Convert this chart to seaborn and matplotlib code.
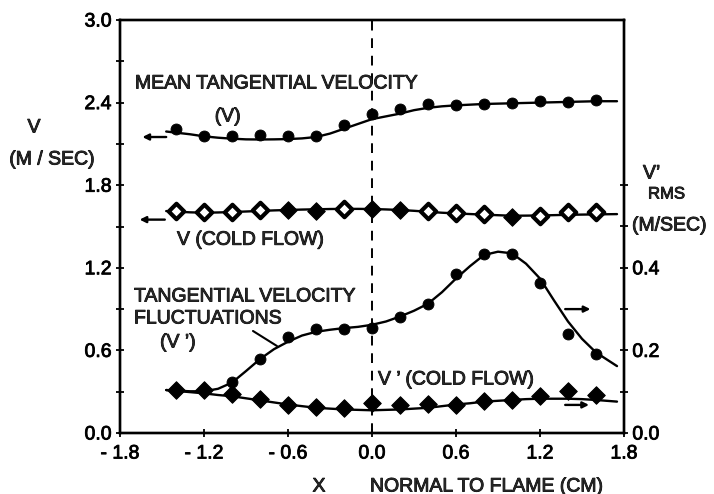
import numpy as np
import pandas as pd
import matplotlib
matplotlib.use("Agg")
import matplotlib.pyplot as plt
import matplotlib.patheffects as pe
import seaborn as sns

# ---------------- data ----------------
x_pts = [-1.4, -1.2, -1.0, -0.8, -0.6, -0.4, -0.2, 0.0, 0.2, 0.4, 0.6, 0.8, 1.0, 1.2, 1.4, 1.6]

# mean tangential velocity V (m/s, left axis)
v_mean = [2.205, 2.16, 2.155, 2.165, 2.16, 2.16, 2.24, 2.32, 2.35, 2.39, 2.38, 2.39, 2.40, 2.41, 2.405, 2.42]
# V cold flow (m/s, left axis)
v_cold = [1.615, 1.603, 1.607, 1.62, 1.62, 1.614, 1.627, 1.627, 1.62, 1.612, 1.595, 1.588, 1.57, 1.576, 1.603, 1.603]
v_cold_kind = ["open", "open", "open", "open", "filled", "filled", "open", "filled",
               "filled", "open", "open", "open", "filled", "open", "open", "open"]

# V' fluctuations (m/s, right axis)
vf_x = [-1.0, -0.8, -0.6, -0.4, -0.2, 0.0, 0.2, 0.4, 0.6, 0.8, 1.0, 1.2, 1.4, 1.6]
vf = [0.123, 0.18, 0.232, 0.252, 0.252, 0.254, 0.281, 0.313, 0.384, 0.433, 0.433, 0.362, 0.240, 0.191]
# V' cold flow (m/s, right axis)
vf_cold = [0.104, 0.104, 0.094, 0.083, 0.067, 0.064, 0.061, 0.072, 0.069, 0.071, 0.067, 0.077, 0.080, 0.089, 0.101, 0.091]

# fitted curves
cv_x = [-1.47, -1.3, -1.2, -1.1, -1.0, -0.9, -0.8, -0.7, -0.6, -0.5, -0.4, -0.3, -0.2, -0.1, 0.0,
        0.1, 0.2, 0.3, 0.4, 0.5, 0.6, 0.8, 1.0, 1.2, 1.4, 1.6, 1.75]
cv_mean = [2.19, 2.17, 2.155, 2.145, 2.138, 2.133, 2.132, 2.133, 2.135, 2.14, 2.15, 2.175, 2.21, 2.245, 2.28,
           2.30, 2.32, 2.345, 2.362, 2.373, 2.38, 2.39, 2.395, 2.40, 2.405, 2.41, 2.41]
cv_cold = [1.612, 1.603, 1.60, 1.602, 1.605, 1.609, 1.613, 1.617, 1.62, 1.623, 1.625, 1.627, 1.628, 1.628, 1.627,
           1.624, 1.62, 1.614, 1.607, 1.60, 1.595, 1.586, 1.578, 1.58, 1.585, 1.588, 1.59]

cf_x = [-1.47, -1.3, -1.2, -1.1, -1.0, -0.9, -0.8, -0.7, -0.6, -0.5, -0.4, -0.3, -0.2, -0.1, 0.0,
        0.1, 0.2, 0.3, 0.4, 0.5, 0.6, 0.7, 0.8, 0.9, 1.0, 1.1, 1.2, 1.3, 1.4, 1.5, 1.6, 1.75]
cf_vf = [0.104, 0.101, 0.101, 0.107, 0.122, 0.15, 0.179, 0.203, 0.221, 0.236, 0.245, 0.25, 0.254, 0.257, 0.262,
         0.27, 0.282, 0.296, 0.313, 0.341, 0.374, 0.404, 0.431, 0.439, 0.435, 0.41, 0.374, 0.321, 0.27, 0.228, 0.195, 0.162]
cf_cold = [0.104, 0.099, 0.096, 0.092, 0.089, 0.084, 0.079, 0.074, 0.069, 0.065, 0.061, 0.059, 0.057, 0.056, 0.055,
           0.056, 0.057, 0.059, 0.061, 0.065, 0.069, 0.072, 0.076, 0.078, 0.080, 0.082, 0.083, 0.083, 0.083, 0.082, 0.080, 0.076]

left_ticks = [0.0, 0.6, 1.2, 1.8, 2.4, 3.0]
right_ticks = [0.0, 0.2, 0.4]
x_ticks = [-1.8, -1.2, -0.6, 0.0, 0.6, 1.2, 1.8]
x_ticklabels = ["- 1.8", "- 1.2", "- 0.6", "0.0", "0.6", "1.2", "1.8"]

# ---------------- plotting ----------------
sns.set_theme(style="ticks")
plt.rcParams["font.family"] = ["Liberation Sans", "DejaVu Sans"]
FS = 14

fig = plt.figure(figsize=(7.14, 4.94), dpi=100)
ax = fig.add_axes([120 / 714, 1 - 433 / 494, 504 / 714, 413 / 494])
ax2 = ax.twinx()

lw = 1.7
pts = pd.DataFrame({"x": x_pts, "v": v_mean, "vc": v_cold, "kind": v_cold_kind, "vfc": vf_cold})
curves_l = pd.DataFrame({"x": cv_x, "m": cv_mean, "c": cv_cold})
curves_r = pd.DataFrame({"x": cf_x, "f": cf_vf, "c": cf_cold})
vf_df = pd.DataFrame({"x": vf_x, "f": vf})

sns.lineplot(data=curves_l, x="x", y="m", ax=ax, color="black", lw=lw, sort=False)
sns.lineplot(data=curves_l, x="x", y="c", ax=ax, color="black", lw=lw, sort=False)
sns.scatterplot(data=pts, x="x", y="v", ax=ax, color="black", s=62, marker="o", edgecolor="black", zorder=5)
sns.scatterplot(data=pts[pts.kind == "filled"], x="x", y="vc", ax=ax, color="black", s=80, marker="D",
                edgecolor="black", zorder=5)
sns.scatterplot(data=pts[pts.kind == "open"], x="x", y="vc", ax=ax, color="white", s=62, marker="D",
                edgecolor="black", linewidth=3.0, zorder=5)

sns.lineplot(data=curves_r, x="x", y="f", ax=ax2, color="black", lw=lw, sort=False)
sns.lineplot(data=curves_r, x="x", y="c", ax=ax2, color="black", lw=lw, sort=False)
sns.scatterplot(data=vf_df, x="x", y="f", ax=ax2, color="black", s=62, marker="o", edgecolor="black", zorder=5)
sns.scatterplot(data=pts, x="x", y="vfc", ax=ax2, color="black", s=80, marker="D", edgecolor="black", zorder=5)

ax.axvline(0.0, color="black", lw=1.4, ls=(0, (5, 4)), zorder=1)

ax.set_xlim(-1.8, 1.8)
ax.set_ylim(0, 3.0)
ax2.set_ylim(0, 1.0)

ax.set_xticks(x_ticks)
ax.set_xticklabels(x_ticklabels, fontsize=FS)
ax.set_yticks(left_ticks)
ax.set_yticklabels([f"{t:.1f}" for t in left_ticks], fontsize=FS)
ax.set_yticks(np.arange(0.3, 3.0, 0.6), minor=True)
ax2.set_yticks(right_ticks)
ax2.set_yticklabels([f"{t:.1f}" for t in right_ticks], fontsize=FS)
ax2.set_yticks([0.1, 0.3, 0.5, 0.6], minor=True)

for a in (ax, ax2):
    a.tick_params(which="both", direction="inout", length=6, width=1.3, color="black", labelcolor="black")
    a.tick_params(which="major", pad=3)
    for s in a.spines.values():
        s.set_color("black")
        s.set_linewidth(1.7)
ax.tick_params(axis="x", pad=6)
ax.set_xlabel("")
ax.set_ylabel("")
ax2.set_ylabel("")

# annotations
ax.text(-1.693, 2.535, "MEAN TANGENTIAL VELOCITY", fontsize=FS, va="center", ha="left")
ax.text(-1.03, 2.295, "(V)", fontsize=FS, va="center", ha="center")
ax.text(-1.393, 1.40, "V (COLD FLOW)", fontsize=FS, va="center", ha="left")
ax.text(-1.70, 0.988, "TANGENTIAL VELOCITY", fontsize=FS, va="center", ha="left")
ax.text(-1.70, 0.828, "FLUCTUATIONS", fontsize=FS, va="center", ha="left")
ax.text(-1.514, 0.654, "(V \u2019)", fontsize=FS, va="center", ha="left")
ax.plot([-0.85, -0.679], [0.741, 0.632], color="black", lw=1.5)
ax.text(0.043, 0.385, "V \u2019 (COLD FLOW)", fontsize=FS, va="center", ha="left")

arrow = dict(arrowstyle="-|>", color="black", lw=1.7, mutation_scale=9, shrinkA=0, shrinkB=0)
ax.annotate("", xy=(-1.64, 2.15), xytext=(-1.47, 2.15), arrowprops=arrow)
ax.annotate("", xy=(-1.66, 1.55), xytext=(-1.48, 1.55), arrowprops=arrow)
ax2.annotate("", xy=(1.56, 0.30), xytext=(1.38, 0.30), arrowprops=arrow)
ax2.annotate("", xy=(1.55, 0.068), xytext=(1.38, 0.068), arrowprops=arrow)

fig.text(34 / 714, 1 - 128 / 494, "V", fontsize=FS, ha="center", va="center")
fig.text(52 / 714, 1 - 160 / 494, "(M / SEC)", fontsize=FS, ha="center", va="center")
fig.text(643 / 714, 1 - 174 / 494, "V\u2019", fontsize=FS, ha="left", va="center")
fig.text(648 / 714, 1 - 194 / 494, "RMS", fontsize=12, ha="left", va="center")
fig.text(632 / 714, 1 - 226 / 494, "(M/SEC)", fontsize=FS, ha="left", va="center")
fig.text(319 / 714, 1 - 487 / 494, "X", fontsize=FS, ha="center", va="center")
fig.text(370 / 714, 1 - 487 / 494, "NORMAL TO FLAME (CM)", fontsize=FS, ha="left", va="center")

# slightly heavier text, like the printed original
for t in fig.findobj(matplotlib.text.Text):
    t.set_path_effects([pe.withStroke(linewidth=0.6, foreground="black")])

fig.savefig("out.png", dpi=100)
